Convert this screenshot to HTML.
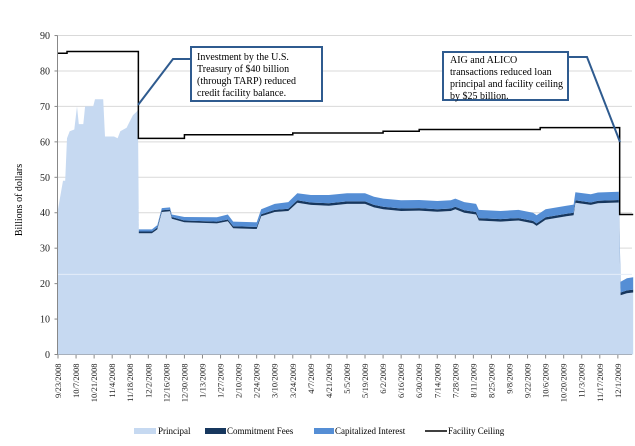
<!DOCTYPE html>
<html><head><meta charset="utf-8"><style>
body{margin:0;background:#fff;}
svg{display:block;font-family:"Liberation Serif",serif;}
</style></head><body>
<svg id="chart" width="635" height="446"></svg>
<script>
const weeks=[0,0.55,0.8,1.0,1.3,1.8,2.1,2.3,2.8,3.0,3.9,4.1,5.0,5.2,6.2,6.6,6.9,7.6,8.3,8.7,8.85,8.95,10.4,11.0,11.5,12.4,12.6,14,17.6,18.8,19.4,22,22.5,24,25.5,26.5,28,30,32,34,35,36,38,40,42,43.5,44,45,46.3,46.6,49,51,52.6,53,54,56.3,57.1,57.3,59,59.8,62.1,62.3,63,63.7];
const principal=[41,49,49,61,63,63.5,70,65,65,70,70,72,72,61.5,61.5,61,63,64,67.5,68.5,69,34.2,34.2,35.3,40.2,40.4,38.3,37.3,37,37.6,35.6,35.4,39,40.2,40.5,42.8,42.2,42,42.5,42.5,41.5,41,40.5,40.6,40.3,40.5,41,40,39.5,37.8,37.5,37.8,37,36.3,38,39,39.3,42.8,42.2,42.7,42.9,16.7,17.3,17.5];
const fees=[0,0,0,0,0,0,0,0,0,0,0,0,0,0,0,0,0,0,0,0,0,0.5,0.5,0.5,0.5,0.5,0.5,0.5,0.5,0.5,0.6,0.6,0.6,0.6,0.6,0.7,0.7,0.7,0.7,0.7,0.7,0.7,0.7,0.7,0.7,0.7,0.7,0.7,0.7,0.7,0.7,0.7,0.7,0.7,0.7,0.7,0.7,0.7,0.7,0.7,0.7,0.8,0.8,0.8];
const capInt=[0,0,0,0,0,0,0,0,0,0,0,0,0,0,0,0,0,0,0,0,0,0.6,0.6,0.7,0.6,0.6,0.7,1.0,1.2,1.4,1.3,1.3,1.4,1.7,1.9,2.0,2.1,2.3,2.3,2.3,2.3,2.3,2.3,2.3,2.3,2.3,2.3,2.3,2.3,2.3,2.3,2.3,2.3,2.3,2.3,2.3,2.3,2.3,2.3,2.3,2.3,3.0,3.4,3.5];
const ceilWeeks=[0,1,8.9,14,26,36,40,53.4,62.2,63.7];
const ceiling=[85,85.5,61,62,62.5,63,63.5,64,39.5,39.5];
const yTicks=[0,10,20,30,40,50,60,70,80,90];
const xLabels=["9/23/2008","10/7/2008","10/21/2008","11/4/2008","11/18/2008","12/2/2008","12/16/2008","12/30/2008","1/13/2009","1/27/2009","2/10/2009","2/24/2009","3/10/2009","3/24/2009","4/7/2009","4/21/2009","5/5/2009","5/19/2009","6/2/2009","6/16/2009","6/30/2009","7/14/2009","7/28/2009","8/11/2009","8/25/2009","9/8/2009","9/22/2009","10/6/2009","10/20/2009","11/3/2009","11/17/2009","12/1/2009"];

const NS="http://www.w3.org/2000/svg";
const svg=document.getElementById('chart');
const X0=57.5,XW=9.03,Y0=354.5,YS=3.544;
const xs=w=>X0+0.5+w*XW;
const ys=v=>Y0-v*YS;
function mk(tag,attrs,parent){const e=document.createElementNS(NS,tag);for(const k in attrs)e.setAttribute(k,attrs[k]);(parent||svg).appendChild(e);return e;}

yTicks.forEach(t=>{
  const g=mk('line',{x1:X0,x2:632,y1:ys(t),y2:ys(t),stroke:t===0?'#888':'#d9d9d9','stroke-width':1});
  
  
  const l=mk('text',{x:50,y:ys(t)+3.5,'font-size':10,'text-anchor':'end',fill:'#222'});
  l.textContent=t;
  
  
  mk('line',{x1:X0-3,x2:X0,y1:ys(t),y2:ys(t),stroke:'#888'});
});

function area(lowFn,highFn,fill,name){
  let d='M';
  weeks.forEach((w,i)=>{d+=xs(w).toFixed(1)+','+ys(highFn(i)).toFixed(1)+' L';});
  for(let i=weeks.length-1;i>=0;i--){d+=xs(weeks[i]).toFixed(1)+','+ys(lowFn(i)).toFixed(1)+(i?' L':'');}
  const p=mk('path',{d:d+'Z',fill:fill,stroke:'none'});
  
  
}
area(i=>0,i=>principal[i],'#c6d9f1','principal-area');
area(i=>principal[i],i=>principal[i]+fees[i],'#17375e','commitment-fees-area');
area(i=>principal[i]+fees[i],i=>principal[i]+fees[i]+capInt[i],'#558ed5','capitalized-interest-area');
mk('line',{x1:X0,x2:632,y1:ys(22.6),y2:ys(22.6),stroke:'#e4edf8','stroke-width':1});

let cd='M'+xs(ceilWeeks[0])+','+ys(ceiling[0]);
for(let i=1;i<ceilWeeks.length;i++){cd+=' L'+xs(ceilWeeks[i])+','+ys(ceiling[i-1])+' L'+xs(ceilWeeks[i])+','+ys(ceiling[i]);}
const cl=mk('path',{d:cd,fill:'none',stroke:'#000','stroke-width':1.5});



mk('line',{x1:X0,x2:X0,y1:ys(90),y2:Y0,stroke:'#888'});
xLabels.forEach((lab,i)=>{
  const x=xs(i*2);
  mk('line',{x1:x,x2:x,y1:Y0,y2:Y0+4,stroke:'#888'});
  const t=mk('text',{x:0,y:0,'font-size':8.5,'text-anchor':'end',fill:'#222',transform:`translate(${x+3},${Y0+9}) rotate(-90)`});
  t.textContent=lab;
  
  
});
</script>
<svg style="position:absolute;left:0;top:0" width="635" height="446">
  <g><text transform="translate(22,200) rotate(-90)" font-size="10" text-anchor="middle" font-family="Liberation Serif,serif">Billions of dollars</text></g>
  <g>
    <polyline points="138,105 173,59 191,59" fill="none" stroke="#2f5b8f" stroke-width="2"/>
    <rect x="191" y="47" width="131" height="54" fill="#fff" stroke="#2f5b8f" stroke-width="2"/>
    <text font-size="10" font-family="Liberation Serif,serif"><tspan x="197" y="60">Investment by the U.S.</tspan><tspan x="197" y="72">Treasury of $40 billion</tspan><tspan x="197" y="84">(through TARP) reduced</tspan><tspan x="197" y="96">credit facility balance.</tspan></text>
  </g>
  <g>
    <polyline points="568,57 587,57 620,142" fill="none" stroke="#2f5b8f" stroke-width="2"/>
    <rect x="443" y="52" width="125" height="48" fill="#fff" stroke="#2f5b8f" stroke-width="2"/>
    <text font-size="10" font-family="Liberation Serif,serif"><tspan x="450" y="63">AIG and ALICO</tspan><tspan x="450" y="75">transactions reduced loan</tspan><tspan x="450" y="87">principal and facility ceiling</tspan><tspan x="450" y="99">by $25 billion.</tspan></text>
  </g>
  <g font-size="9" font-family="Liberation Serif,serif">
    <g><rect x="134" y="428" width="22" height="6" fill="#c6d9f1"/><text x="158" y="434">Principal</text></g>
    <g><rect x="205" y="428" width="21" height="6" fill="#17375e"/><text x="227" y="434">Commitment Fees</text></g>
    <g><rect x="314" y="428" width="20" height="6" fill="#558ed5"/><text x="335" y="434">Capitalized Interest</text></g>
    <g><line x1="425" y1="431" x2="447" y2="431" stroke="#000" stroke-width="1.5"/><text x="448" y="434">Facility Ceiling</text></g>
  </g>
</svg>
</body></html>
